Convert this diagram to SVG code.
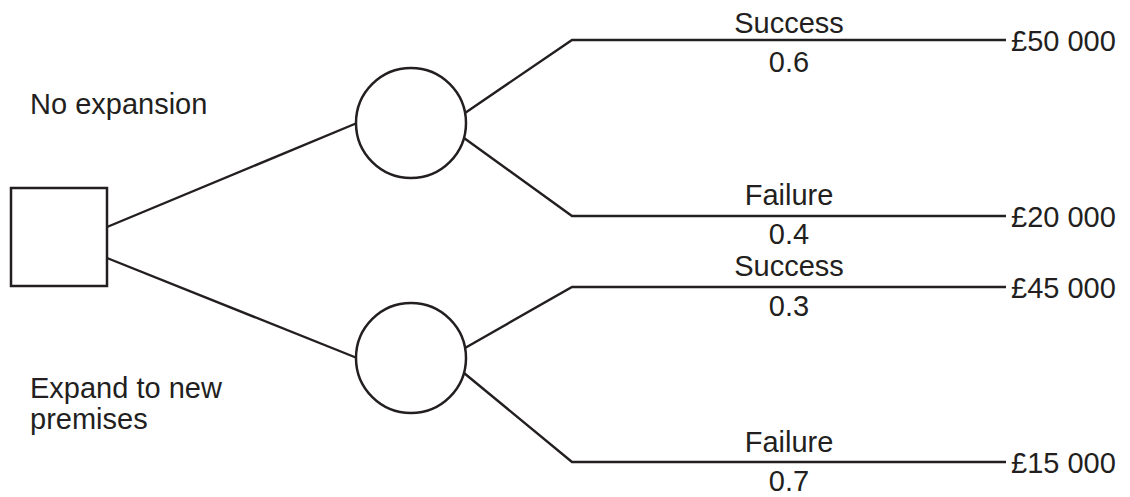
<svg xmlns="http://www.w3.org/2000/svg" width="1130" height="497" viewBox="0 0 1130 497">
<style>
.s{fill:none;stroke:#231f20;stroke-width:2.4}
.n{fill:#fff;stroke:#231f20;stroke-width:2.5}
text{font-family:"Liberation Sans",Arial,sans-serif;font-size:29px;fill:#231f20}
.c{text-anchor:middle}
</style>
<rect width="1130" height="497" fill="#fff"/>
<g id="connectors">
<polyline class="s" points="107,227 357,123"/>
<polyline class="s" points="107,258 357,358"/>
<polyline class="s" points="465,113 572,40 1006,40"/>
<polyline class="s" points="464,138 572,216 1006,216"/>
<polyline class="s" points="465,348 572,287 1006,287"/>
<polyline class="s" points="464,373 572,462 1006,462"/>
</g>
<g id="decision"><rect class="n" x="11" y="188" width="96" height="98"/></g>
<g id="chance1"><circle class="n" cx="411" cy="123" r="55"/></g>
<g id="chance2"><circle class="n" cx="411" cy="358" r="55"/></g>
<g id="labels">
<text x="30" y="114">No expansion</text>
<text x="30" y="398">Expand to new</text>
<text x="30" y="429">premises</text>
<text class="c" x="789" y="33">Success</text>
<text class="c" x="789" y="72">0.6</text>
<text class="c" x="789" y="205">Failure</text>
<text class="c" x="789" y="244">0.4</text>
<text class="c" x="789" y="276">Success</text>
<text class="c" x="789" y="316">0.3</text>
<text class="c" x="789" y="452">Failure</text>
<text class="c" x="789" y="491">0.7</text>
<text x="1011" y="51">£50 000</text>
<text x="1011" y="227">£20 000</text>
<text x="1011" y="298">£45 000</text>
<text x="1011" y="473">£15 000</text>
</g>
</svg>
